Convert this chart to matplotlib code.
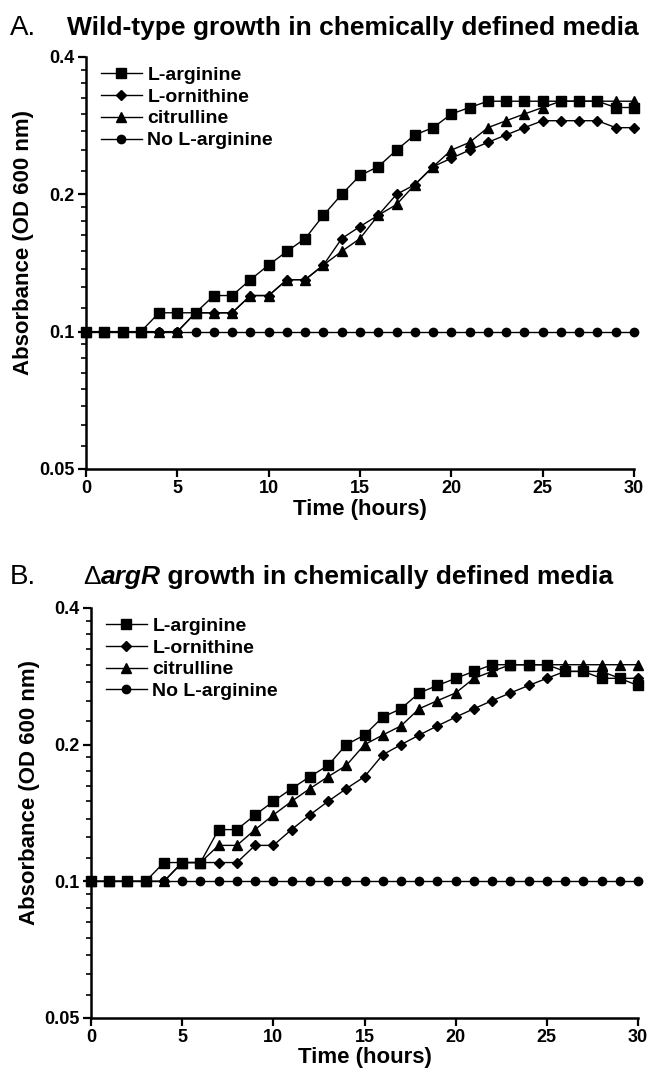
import numpy as np
import matplotlib
matplotlib.use("Agg")
import matplotlib.pyplot as plt
from matplotlib.text import Annotation

plt.rcParams['font.family'] = ['Liberation Sans', 'DejaVu Sans']

hours = list(range(31))

series_labels = ["L-arginine", "L-ornithine", "citrulline", "No L-arginine"]

A_arginine = [0.1, 0.1, 0.1, 0.1, 0.11, 0.11, 0.11, 0.12, 0.12, 0.13, 0.14, 0.15, 0.16,
              0.18, 0.2, 0.22, 0.23, 0.25, 0.27, 0.28, 0.30, 0.31, 0.32, 0.32, 0.32,
              0.32, 0.32, 0.32, 0.32, 0.31, 0.31]
A_ornithine = [0.1, 0.1, 0.1, 0.1, 0.1, 0.1, 0.11, 0.11, 0.11, 0.12, 0.12, 0.13, 0.13,
               0.14, 0.16, 0.17, 0.18, 0.2, 0.21, 0.23, 0.24, 0.25, 0.26, 0.27, 0.28,
               0.29, 0.29, 0.29, 0.29, 0.28, 0.28]
A_citrulline = [0.1, 0.1, 0.1, 0.1, 0.1, 0.1, 0.11, 0.11, 0.11, 0.12, 0.12, 0.13, 0.13,
                0.14, 0.15, 0.16, 0.18, 0.19, 0.21, 0.23, 0.25, 0.26, 0.28, 0.29, 0.30,
                0.31, 0.32, 0.32, 0.32, 0.32, 0.32]
A_none = [0.1] * 31

B_arginine = [0.1, 0.1, 0.1, 0.1, 0.11, 0.11, 0.11, 0.13, 0.13, 0.14, 0.15, 0.16, 0.17,
              0.18, 0.2, 0.21, 0.23, 0.24, 0.26, 0.27, 0.28, 0.29, 0.30, 0.30, 0.30,
              0.30, 0.29, 0.29, 0.28, 0.28, 0.27]
B_ornithine = [0.1, 0.1, 0.1, 0.1, 0.1, 0.11, 0.11, 0.11, 0.11, 0.12, 0.12, 0.13, 0.14,
               0.15, 0.16, 0.17, 0.19, 0.2, 0.21, 0.22, 0.23, 0.24, 0.25, 0.26, 0.27,
               0.28, 0.29, 0.29, 0.29, 0.28, 0.28]
B_citrulline = [0.1, 0.1, 0.1, 0.1, 0.1, 0.11, 0.11, 0.12, 0.12, 0.13, 0.14, 0.15, 0.16,
                0.17, 0.18, 0.2, 0.21, 0.22, 0.24, 0.25, 0.26, 0.28, 0.29, 0.30, 0.30,
                0.30, 0.30, 0.30, 0.30, 0.30, 0.30]
B_none = [0.1] * 31

x_ticks = [0, 5, 10, 15, 20, 25, 30]
y_ticks = [0.05, 0.1, 0.2, 0.4]
y_ticklabels = ["0.05", "0.1", "0.2", "0.4"]

markers = ['s', 'D', '^', 'o']
msizes = [6.5, 5.0, 7.0, 6.0]

fig = plt.figure(figsize=(6.5, 10.79), dpi=100)


def draw_panel(ax, data):
    for vals, lab, m, ms in zip(data, series_labels, markers, msizes):
        ax.plot(hours, vals, color='black', lw=1.0, marker=m, ms=ms,
                mfc='black', mec='black', label=lab, clip_on=False, zorder=3)
    ax.set_yscale('log')
    ax.set_xlim(0, 30)
    ax.set_ylim(0.05, 0.4)
    ax.set_yticks(y_ticks)
    ax.set_yticklabels(y_ticklabels)
    minors = []
    for lo in y_ticks[:-1]:
        minors += [lo + k * lo / 8 for k in range(1, 8)]
    ax.set_yticks(minors, minor=True)
    ax.yaxis.set_minor_formatter(plt.NullFormatter())
    ax.set_xticks(x_ticks)
    ax.tick_params(axis='both', which='major', direction='out', length=6, width=1.6,
                   labelsize=13, pad=2)
    ax.tick_params(axis='y', which='minor', direction='out', length=3.5, width=1.2)
    ax.tick_params(axis='x', which='minor', length=0)
    for lbl in ax.get_xticklabels() + ax.get_yticklabels():
        lbl.set_fontweight('bold')
    for s in ['top', 'right']:
        ax.spines[s].set_visible(False)
    for s in ['left', 'bottom']:
        ax.spines[s].set_linewidth(1.8)
    ax.set_xlabel("Time (hours)", fontsize=16, fontweight='bold', labelpad=1)
    ax.set_ylabel("Absorbance (OD 600 nm)", fontsize=16, fontweight='bold', labelpad=3)
    ax.yaxis.set_label_coords(-0.094, 0.55)
    ax.legend(loc='upper left', bbox_to_anchor=(0.027, 0.978), frameon=False,
              prop={'weight': 'bold', 'size': 14}, handlelength=2.1,
              handletextpad=0.3, labelspacing=0.22, borderpad=0, borderaxespad=0)


axA = fig.add_axes([86 / 650, 1 - 469 / 1079, 548 / 650, 412 / 1079])
draw_panel(axA, [A_arginine, A_ornithine, A_citrulline, A_none])

axB = fig.add_axes([91 / 650, 1 - 1018 / 1079, 547 / 650, 410 / 1079])
draw_panel(axB, [B_arginine, B_ornithine, B_citrulline, B_none])

# Panel titles
fig.text(10 / 650, 1 - 35 / 1079, "A.", fontsize=20, va='baseline', ha='left')
fig.text(67 / 650, 1 - 35 / 1079, "Wild-type growth in chemically defined media",
         fontsize=19, fontweight='bold', va='baseline', ha='left')

fig.text(10 / 650, 1 - 584 / 1079, "B.", fontsize=20, va='baseline', ha='left')
t1 = fig.text(83 / 650, 1 - 584 / 1079, "\u0394", fontsize=19, va='baseline', ha='left')
an2 = fig.add_artist(Annotation("argR", xy=(1, 0), xycoords=t1,
                                fontsize=19, fontweight='bold',
                                fontstyle='italic', va='bottom', ha='left'))
an3 = fig.add_artist(Annotation(" growth in chemically defined media",
                                xy=(1, 0), xycoords=(an2, t1),
                                fontsize=19, fontweight='bold',
                                va='bottom', ha='left'))

fig.savefig("out.png", dpi=100)
